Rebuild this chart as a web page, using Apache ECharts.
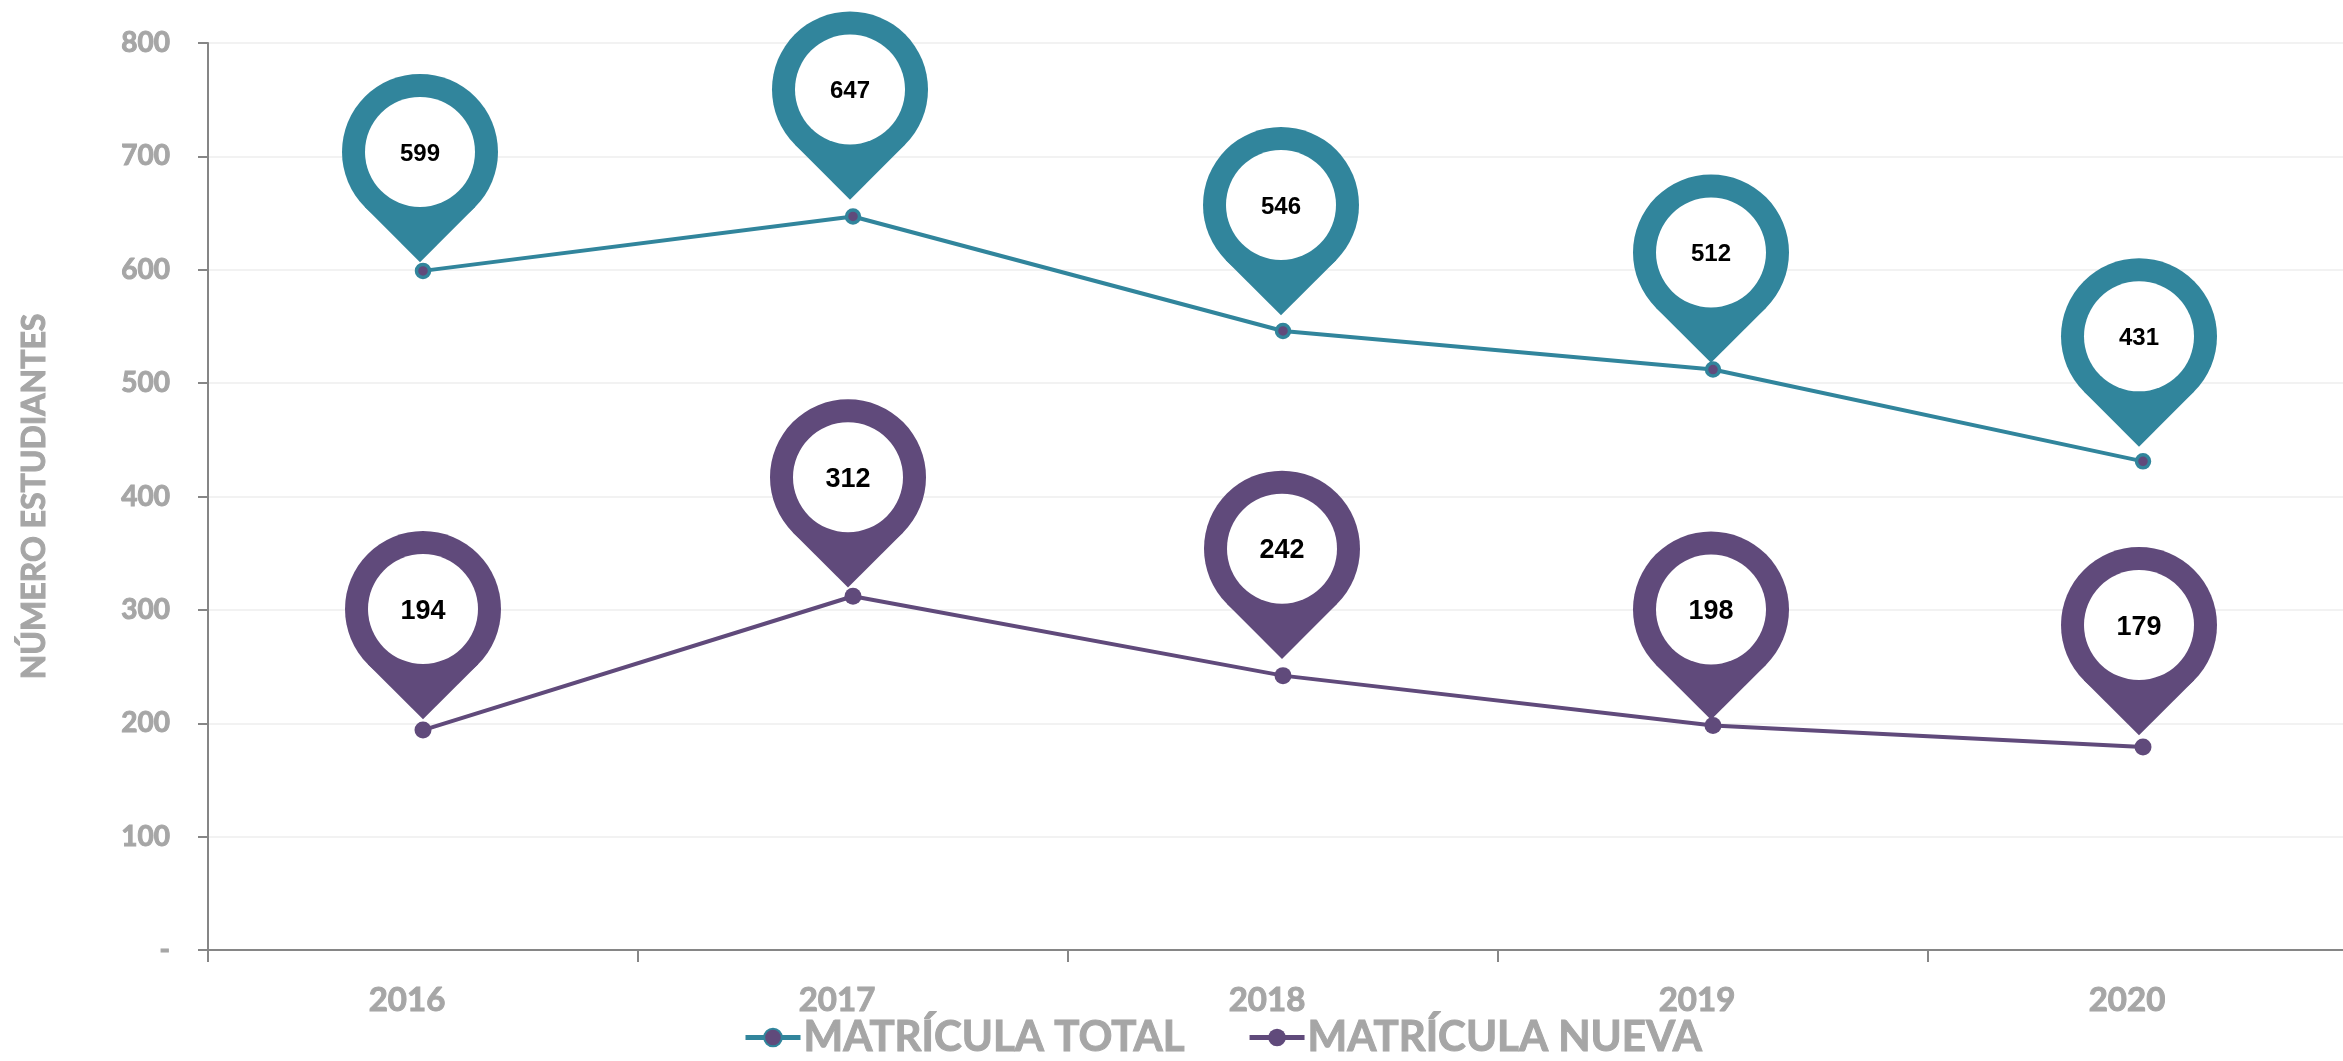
<!DOCTYPE html>
<html><head><meta charset="utf-8">
<style>html,body{margin:0;padding:0;background:#fff}#c{width:2343px;height:1061px}</style>
<script src="https://cdn.jsdelivr.net/npm/echarts@6/dist/echarts.min.js"></script>
</head><body><div id="c"></div>
<script>
const years = ['2016','2017','2018','2019','2020'];
const matriculaTotal = [599,647,546,512,431];
const matriculaNueva = [194,312,242,198,179];
const teal = '#31859C', purple = '#604A7B', gray = '#A6A6A6';
// pin head offset from its data point (px)
const totalPinDx = [-3,-3,-2,-2,-4];
const totalPinDy = [-119,-127,-126,-117,-125];
const nuevaPinDx = [0,-5,-1,-2,-4];
const nuevaPinDy = [-121,-119,-127,-116,-122];

function pinSeries(name, values, color, dxs, dys, fontSize){
  return {
    type:'custom', name, coordinateSystem:'cartesian2d', z:5, silent:true,
    data: values.map((v,i)=>[i,v]),
    encode:{x:0,y:1},
    renderItem(params, api){
      const i = api.value(0);
      const p = api.coord([i, api.value(1)]);
      const cx = p[0]+dxs[i], cy = p[1]+dys[i];
      const R = 78, r = 55, t = R*Math.SQRT1_2;
      return {type:'group', children:[
        {type:'circle', shape:{cx,cy,r:R}, style:{fill:color}},
        {type:'polygon', shape:{points:[[cx,cy],[cx-t,cy+t],[cx,cy+2*t],[cx+t,cy+t]]}, style:{fill:color}},
        {type:'circle', shape:{cx,cy,r}, style:{fill:'#fff'}},
        {type:'text', style:{x:cx,y:cy+2,text:String(api.value(1)),align:'center',verticalAlign:'middle',
          fill:'#000',font:'bold '+fontSize+'px "Liberation Sans"'}}
      ]};
    }
  };
}
function lineSeries(name, values, color, center){
  const ringed = center !== color;
  return {
    type:'line', name, data:values, z:3, symbol:'circle', symbolSize:ringed?13:17, showSymbol:true,
    lineStyle:{color,width:4},
    itemStyle:{color:center,borderColor:color,borderWidth:ringed?3.5:0,opacity:1}
  };
}
const heavy = {textBorderColor:gray,textBorderWidth:1};
const chart = echarts.init(document.getElementById('c'),null,{renderer:'canvas'});
chart.setOption({
  animation:false, backgroundColor:'#fff',
  grid:{left:208,top:43,width:2150,height:907,containLabel:false,outerBoundsMode:'none'},
  legend:{left:743,top:1016,itemWidth:55,itemHeight:22,itemGap:62,padding:0,
    data:['MATRÍCULA TOTAL','MATRÍCULA NUEVA'],
    lineStyle:{width:5},
    textStyle:{color:gray,fontFamily:'Lato',fontWeight:'bold',fontSize:42,padding:[4,0,0,-2],...heavy}},
  xAxis:{type:'category',data:years,boundaryGap:true,
    axisLine:{lineStyle:{color:'#868686',width:2}},
    axisTick:{show:true,length:12,alignWithLabel:false,lineStyle:{color:'#868686',width:2}},
    axisLabel:{interval:0,margin:34,color:gray,fontFamily:'Lato',fontWeight:'bold',fontSize:33,padding:[0,32,0,0],...heavy},
    splitLine:{show:false}},
  yAxis:{type:'value',min:0,max:800,interval:100,
    name:'NÚMERO ESTUDIANTES',nameLocation:'middle',nameGap:157,nameRotate:90,
    nameTextStyle:{color:gray,fontFamily:'Lato',fontWeight:'bold',fontSize:32,...heavy},
    axisLine:{show:true,lineStyle:{color:'#868686',width:2}},
    axisTick:{show:true,length:10,lineStyle:{color:'#868686',width:2}},
    axisLabel:{margin:38,color:gray,fontFamily:'Lato',fontWeight:'bold',fontSize:28,...heavy,
      formatter:v=>v===0?'-':String(v)},
    splitLine:{show:true,lineStyle:{color:'#F2F2F2',width:2}}},
  series:[
    lineSeries('MATRÍCULA TOTAL',matriculaTotal,teal,purple),
    lineSeries('MATRÍCULA NUEVA',matriculaNueva,purple,purple),
    pinSeries('pinTotal',matriculaTotal,teal,totalPinDx,totalPinDy,24),
    pinSeries('pinNueva',matriculaNueva,purple,nuevaPinDx,nuevaPinDy,27)
  ]
});
</script></body></html>
